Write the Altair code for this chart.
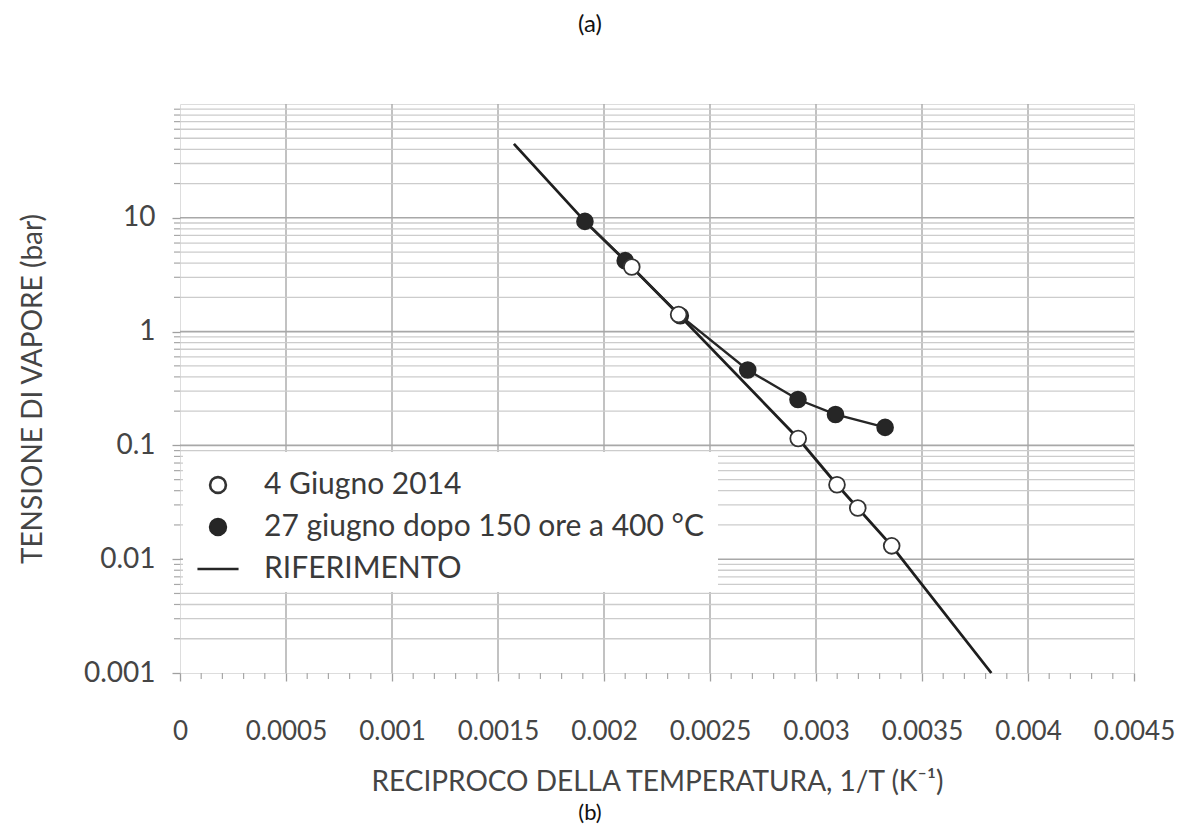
import altair as alt
import pandas as pd

# ---------------- data ----------------
S1 = "4 Giugno 2014"
S2 = "27 giugno dopo 150 ore a 400 °C"
S3 = "RIFERIMENTO"

hollow_x = [0.002131, 0.002352, 0.002916, 0.003099, 0.003197, 0.003357]
hollow_y = [3.70, 1.41, 0.115, 0.0451, 0.0282, 0.0131]

filled_x = [0.00191, 0.00210, 0.00236, 0.002678, 0.002915, 0.003092, 0.003326]
filled_y = [9.3, 4.2, 1.38, 0.46, 0.253, 0.187, 0.144]

ref_x = [0.001575, 0.00191, 0.002131, 0.002352, 0.002916, 0.003099, 0.003197, 0.003357, 0.003827]
ref_y = [44.6, 9.3, 3.70, 1.41, 0.115, 0.0451, 0.0282, 0.0131, 0.001]

x_ticks = [0, 0.0005, 0.001, 0.0015, 0.002, 0.0025, 0.003, 0.0035, 0.004, 0.0045]
y_ticks = [0.001, 0.01, 0.1, 1, 10]
decades = [0.001, 0.01, 0.1, 1, 10]
minor_mult = [2, 3, 4, 5, 6, 7, 8, 9]

# ---------------- layout ----------------
W, H = 954, 569
FONT = "Lato"
TXT = "#454545"

x_minor = [round(i * 0.0001, 4) for i in range(1, 45) if i % 5 != 0]
y_minor = [d * m for d in decades for m in minor_mult]

xs = alt.Scale(domain=[0, 0.0045], nice=False, zero=False)
ys = alt.Scale(type="log", domain=[0.001, 100], nice=False)

xaxis = alt.Axis(values=x_ticks, format="~g", grid=False, domain=False,
                 tickSize=8, tickColor="#a0a0a0", tickWidth=1.3,
                 labelFont=FONT, labelFontSize=26, labelColor=TXT,
                 labelPadding=37, labelFlush=False,
                 title="RECIPROCO DELLA TEMPERATURA, 1/T (K⁻¹)",
                 titleFont=FONT, titleFontSize=28, titleFontWeight="normal",
                 titleColor=TXT, titleX=W / 2, titleY=109,
                 titleBaseline="middle", titleAlign="center")
yaxis = alt.Axis(values=y_ticks, format="~g", grid=False, domain=False,
                 tickSize=8, tickColor="#a0a0a0", tickWidth=1.3,
                 labelFont=FONT, labelFontSize=28, labelColor=TXT,
                 labelPadding=17,
                 title="TENSIONE DI VAPORE (bar)",
                 titleFont=FONT, titleFontSize=28, titleFontWeight="normal",
                 titleColor=TXT, titleX=-147, titleY=H / 2,
                 titleBaseline="middle", titleAlign="center", titleAngle=270)

X = alt.X("x:Q", scale=xs, axis=xaxis)
Y = alt.Y("y:Q", scale=ys, axis=yaxis)

vgrid = alt.Chart(pd.DataFrame({"x": x_ticks[1:-1]})).mark_rule(
    color="#a8a8a8", strokeWidth=1.4).encode(x=X)
hminor = alt.Chart(pd.DataFrame({"y": y_minor})).mark_rule(
    color="#cccccc", strokeWidth=1.3).encode(y=Y)
hmajor = alt.Chart(pd.DataFrame({"y": decades[1:]})).mark_rule(
    color="#a8a8a8", strokeWidth=1.6).encode(y=Y)
xminor_ticks = alt.Chart(pd.DataFrame({"x": x_minor})).mark_rule(
    color="#a8a8a8", strokeWidth=1.2).encode(x=X, y=alt.value(H), y2=alt.value(H + 6))
yminor_ticks = alt.Chart(pd.DataFrame({"y": y_minor})).mark_rule(
    color="#a8a8a8", strokeWidth=1.2).encode(y=Y, x=alt.value(-6), x2=alt.value(0))

legend_box = alt.Chart(pd.DataFrame({"k": [0]})).mark_rect(fill="white").encode(
    x=alt.value(3), x2=alt.value(538), y=alt.value(348), y2=alt.value(488))

ref = alt.Chart(pd.DataFrame({"x": ref_x, "y": ref_y})).mark_line(
    color="#1e1e1e", strokeWidth=2.8).encode(x=X, y=Y)
filled_line = alt.Chart(pd.DataFrame({"x": filled_x, "y": filled_y})).mark_line(
    color="#262626", strokeWidth=2.4).encode(x=X, y=Y)

pts = pd.concat([
    pd.DataFrame({"x": filled_x, "y": filled_y, "series": S2}),
    pd.DataFrame({"x": hollow_x, "y": hollow_y, "series": S1}),
], ignore_index=True)

dom = [S1, S2, S3]
leg = alt.Legend(orient="none", legendX=23, legendY=366, title=None,
                 labelFont=FONT, labelFontSize=30, labelColor="#3a3a3a",
                 labelOffset=31, rowPadding=12, padding=0, symbolSize=250,
                 symbolStrokeWidth=2.6, labelLimit=700)
points = alt.Chart(pts).mark_point(size=250, opacity=1).encode(
    x=X, y=Y,
    shape=alt.Shape("series:N", scale=alt.Scale(domain=dom, range=["circle", "circle", "M-2.6,0H2.6"]), legend=leg),
    fill=alt.Fill("series:N", scale=alt.Scale(domain=dom, range=["#ffffff", "#262626", "transparent"]), legend=leg),
    stroke=alt.Stroke("series:N", scale=alt.Scale(domain=dom, range=["#333333", "#262626", "#262626"]), legend=leg),
    strokeWidth=alt.value(1.8),
)

label_a = alt.Chart(pd.DataFrame({"t": ["(a)"]})).mark_text(
    font=FONT, fontSize=24, color="#111111").encode(
    text="t:N", x=alt.value(410), y=alt.value(-79))
label_b = alt.Chart(pd.DataFrame({"t": ["(b)"]})).mark_text(
    font=FONT, fontSize=22, color="#111111").encode(
    text="t:N", x=alt.value(410), y=alt.value(709))

chart = alt.layer(
    vgrid, hminor, hmajor, xminor_ticks, yminor_ticks, legend_box,
    ref, filled_line, points, label_a, label_b
).properties(
    width=W, height=H,
    padding={"left": 172, "top": 96, "right": 43, "bottom": 153},
    autosize=alt.AutoSizeParams(type="none"),
).configure_view(
    stroke="#a6a6a6", strokeWidth=2.5
).configure(background="white")

chart.save("out.html", embed_options={"renderer": "svg", "actions": False})
